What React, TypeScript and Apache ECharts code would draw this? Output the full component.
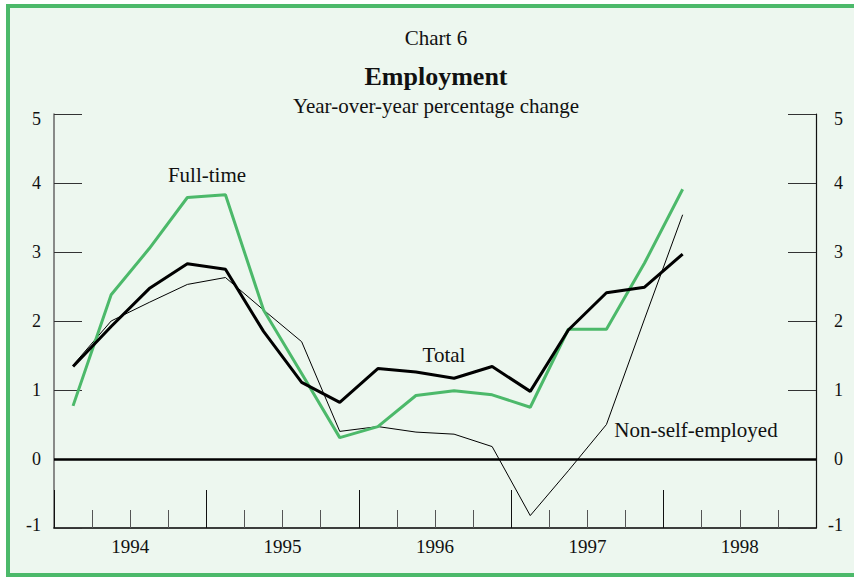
import React, { useEffect, useRef } from "react";
import * as echarts from "echarts";

// Quarters 1994Q1 .. 1998Q1 (17 observations), x axis spans 1994..1998 (20 quarters)
const years = [1994, 1995, 1996, 1997, 1998];
const fullTime = [0.77, 2.38, 3.05, 3.79, 3.83, 2.16, 1.24, 0.31, 0.47, 0.92, 0.99, 0.93, 0.75, 1.88, 1.88, 2.84, 3.91];
const total = [1.34, 1.92, 2.47, 2.83, 2.75, 1.85, 1.11, 0.82, 1.31, 1.26, 1.17, 1.34, 0.98, 1.87, 2.41, 2.49, 2.97];
const nonSelf = [1.36, 2.0, 2.27, 2.53, 2.63, 2.16, 1.7, 0.4, 0.47, 0.39, 0.36, 0.18, -0.82, -0.17, 0.5, 2.03, 3.54];
const yTicks = { min: -1, max: 5, interval: 1 };

const FONT = "'Liberation Serif', 'Times New Roman', serif";
const GREEN = "#4cb96a";

const toPairs = (arr: number[]) => arr.map((v, i) => [i + 0.5, v]);

export default function App() {
  const ref = useRef<HTMLDivElement>(null);
  useEffect(() => {
    if (!ref.current) return;
    const chart = echarts.init(ref.current, undefined, { renderer: "svg" });
    const nQ = years.length * 4;
    const yAxisCommon = {
      type: "value",
      min: yTicks.min,
      max: yTicks.max,
      interval: yTicks.interval,
      splitLine: { show: false },
      axisTick: { show: true, inside: true, length: 28, lineStyle: { color: "#333", width: 1 } },
    };
    const yFmt = (v: number) => (v === 5 ? `{t|${v}}` : v === -1 ? `{b|${v}}` : `${v}`);
    const yRich = {
      t: { fontFamily: FONT, fontSize: 18, color: "#111", padding: [10, 0, 0, 0] },
      b: { fontFamily: FONT, fontSize: 18, color: "#111", padding: [0, 0, 6, 0] },
    };
    chart.setOption({
      animation: false,
      backgroundColor: "#ffffff",
      textStyle: { fontFamily: FONT },
      graphic: [
        {
          type: "rect",
          z: -10,
          shape: { x: 8, y: 6, width: 900, height: 569 },
          style: { fill: "#edf7ef", stroke: GREEN, lineWidth: 4 },
          silent: true,
        },
        { type: "text", x: 436, y: 38, style: { text: "Chart 6", font: `21px ${FONT}`, fill: "#111", align: "center", verticalAlign: "middle" } },
        { type: "text", x: 436, y: 76, style: { text: "Employment", font: `bold 26px ${FONT}`, fill: "#111", align: "center", verticalAlign: "middle" } },
        { type: "text", x: 436, y: 106, style: { text: "Year-over-year percentage change", font: `21px ${FONT}`, fill: "#111", align: "center", verticalAlign: "middle" } },
        { type: "text", x: 207, y: 175, style: { text: "Full-time", font: `21px ${FONT}`, fill: "#111", align: "center", verticalAlign: "middle" } },
        { type: "text", x: 444, y: 355, style: { text: "Total", font: `21px ${FONT}`, fill: "#111", align: "center", verticalAlign: "middle" } },
        { type: "text", x: 696, y: 430, style: { text: "Non-self-employed", font: `21px ${FONT}`, fill: "#111", align: "center", verticalAlign: "middle" } },
      ],
      grid: { left: 54, right: 38, top: 114, bottom: 49, containLabel: false },
      xAxis: [
        {
          type: "value",
          min: 0,
          max: nQ,
          interval: 4,
          position: "bottom",
          axisLine: { show: true, onZero: false, lineStyle: { color: "#000", width: 1.5 } },
          axisTick: { show: true, inside: true, length: 38, lineStyle: { color: "#111", width: 1 } },
          minorTick: { show: true, splitNumber: 4, length: 18, lineStyle: { color: "#555", width: 1 } },
          axisLabel: { show: false },
          splitLine: { show: false },
        },
        {
          type: "value",
          min: 0,
          max: nQ,
          interval: 2,
          position: "bottom",
          axisLine: { show: false, onZero: false },
          axisTick: { show: false },
          splitLine: { show: false },
          axisLabel: {
            show: true,
            margin: 9,
            fontFamily: FONT,
            fontSize: 19,
            color: "#111",
            formatter: (v: number) => (v % 4 === 2 ? String(years[(v - 2) / 4]) : ""),
          },
        },
      ],
      yAxis: [
        {
          ...yAxisCommon,
          position: "left",
          axisLine: { show: true, onZero: false, lineStyle: { color: "#666", width: 1.5 } },
          axisLabel: { margin: 13, fontFamily: FONT, fontSize: 18, color: "#111", formatter: yFmt, rich: yRich },
        },
        {
          ...yAxisCommon,
          position: "right",
          axisLine: { show: true, onZero: false, lineStyle: { color: "#111", width: 1.2 } },
          axisLabel: { margin: 27, align: "right", fontFamily: FONT, fontSize: 18, color: "#111", formatter: yFmt, rich: yRich },
        },
      ],
      series: [
        {
          name: "Non-self-employed",
          type: "line",
          data: toPairs(nonSelf),
          symbol: "none",
          lineStyle: { color: "#000", width: 1 },
          z: 2,
          markLine: {
            silent: true,
            symbol: "none",
            label: { show: false },
            lineStyle: { color: "#000", width: 2.5, type: "solid" },
            data: [{ yAxis: 0 }],
          },
        },
        {
          name: "Full-time",
          type: "line",
          data: toPairs(fullTime),
          symbol: "none",
          lineStyle: { color: GREEN, width: 3 },
          z: 3,
        },
        {
          name: "Total",
          type: "line",
          data: toPairs(total),
          symbol: "none",
          lineStyle: { color: "#000", width: 3 },
          z: 4,
        },
      ],
    });
    return () => chart.dispose();
  }, []);
  return <div ref={ref} style={{ position: "fixed", left: 0, top: 0, width: 854, height: 577 }} />;
}
